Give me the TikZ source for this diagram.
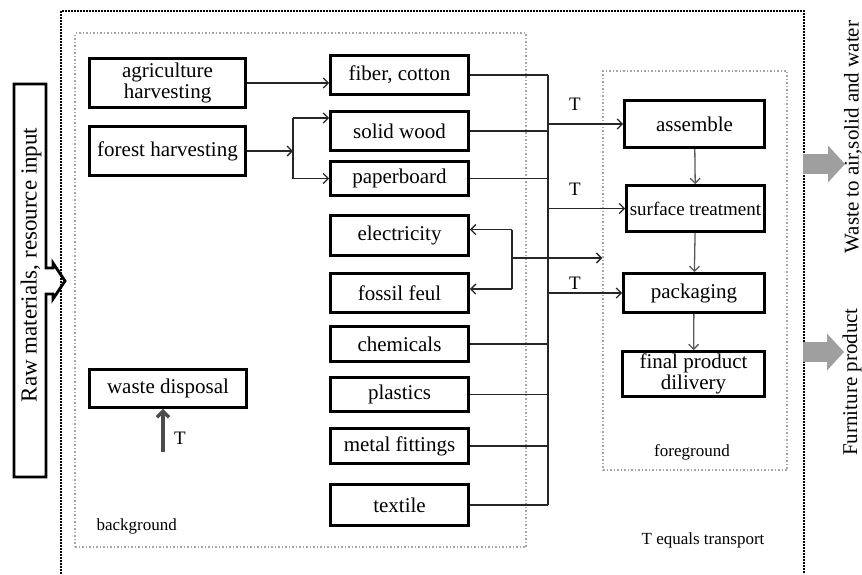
\documentclass[tikz,border=0pt]{standalone}
\usepackage{fontspec}
\setmainfont{Liberation Serif}
\usetikzlibrary{arrows.meta, positioning, calc}

\begin{document}
\begin{tikzpicture}[
  x=1pt, y=-1pt,
  box/.style    = {draw, line width=2.8pt, inner sep=1pt, align=center,
                   minimum width=138pt, minimum height=38pt,
                   font=\fontsize{21}{21}\selectfont},
  conn/.style   = {-{Straight Barb[length=5pt,width=10pt]}, line width=1.3pt,
                   black!85},
  bline/.style  = {line width=1.3pt, black!85},
  farr/.style   = {-{Straight Barb[length=5pt,width=10pt]}, line width=1.3pt,
                   black!65},
  zone/.style   = {draw=gray!70, line width=1.5pt,
                   dash pattern=on 1.5pt off 2pt, inner sep=0pt},
  tlab/.style   = {font=\fontsize{19}{19}\selectfont},
  lbl/.style    = {font=\fontsize{17}{17}\selectfont},
  side/.style   = {font=\fontsize{21}{21}\selectfont, rotate=90},
  bigarr/.style = {line width=20pt, gray!75,
                   -{Triangle[length=17pt,width=36pt]}},
]
\useasboundingbox (0,0) rectangle (862,574);

%% system boundary
\draw[line width=2.2pt, dash pattern=on 1.6pt off 1.4pt]
  (61,574) -- (61,11) -- (804,11) -- (804,574);

\node[zone, minimum width=451pt, minimum height=514pt] (bg) at (300.5,290) {};
\node[zone, minimum width=184pt, minimum height=399pt] (fg) at (695,270.5) {};

%% raw material input
\draw[line width=2.8pt, line join=miter]
  (14,84) -- (46,84) -- (46,268) -- (53,268) -- (53,263) -- (65,281)
  -- (53,299) -- (53,294) -- (46,294) -- (46,477) -- (14,477) -- cycle;
\node[font=\fontsize{23}{23}\selectfont, rotate=90] (rawin) at (31,265)
  {Raw materials, resource input};

%% background processes
\node[box, minimum width=156pt, minimum height=49pt] (agri)   at (167.5,83)  {agriculture\\harvesting};
\node[box, minimum width=156pt, minimum height=49pt] (forest) at (167.5,151) {forest harvesting};
\node[box, minimum width=157pt, minimum height=38pt] (waste)  at (168,388.5) {waste disposal};

\node[box, minimum height=39pt] (fiber)   at (399.5,75)    {fiber, cotton};
\node[box, minimum height=39pt] (solid)   at (399.5,131)   {solid wood};
\node[box, minimum height=34pt] (paper)   at (399.5,178.5) {paperboard};
\node[box, minimum height=40pt] (elec)    at (399.5,235.5) {electricity};
\node[box, minimum height=39pt] (fossil)  at (399.5,293)   {fossil feul};
\node[box, minimum height=35pt] (chem)    at (399.5,344)   {chemicals};
\node[box, minimum height=34pt] (plast)   at (399.5,394.5) {plastics};
\node[box, minimum height=35pt] (metal)   at (399.5,446)   {metal fittings};
\node[box, minimum height=41pt] (textile) at (399.5,505)   {textile};

%% foreground processes
\node[box, minimum width=140pt, minimum height=47pt] (assemble) at (694.5,124) {assemble};
\node[box, minimum width=138pt, minimum height=46pt,
      font=\fontsize{19}{19}\selectfont]             (surface)  at (695.5,208.5) {surface treatment};
\node[box, minimum width=141pt, minimum height=39pt] (pack)     at (694,293)   {packaging};
\node[box, minimum width=142pt, minimum height=45pt] (final)    at (693.5,374) {final product\\dilivery};

%% harvesting to materials
\coordinate (fsplit) at (293,151);
\coordinate (solidin) at ([yshift=13pt]solid.west);
\draw[conn] (agri.east) -- (agri.east -| fiber.west);
\draw[conn] (forest.east) -- (fsplit);
\draw[bline] (solidin -| fsplit) -- (paper.west -| fsplit);
\draw[conn] (solidin -| fsplit) -- (solidin);
\draw[conn] (paper.west -| fsplit) -- (paper.west);

%% transport bus
\coordinate (bus) at (548,0);
\foreach \n in {fiber, solid, paper, chem, plast, metal, textile}
  \draw[bline] (\n.east) -- (\n.east -| bus);
\draw[bline] (bus |- fiber.east) -- (bus |- textile.east);

\draw[conn] (bus |- assemble.west) -- (assemble.west);
\draw[conn] (bus |- surface.west)  -- (surface.west);
\draw[conn] (bus |- pack.west)     -- (pack.west);
\node[tlab] (tasm)  at (575,104) {T};
\node[tlab] (tsurf) at (575,189) {T};
\node[tlab] (tpack) at (575,283) {T};

%% energy
\coordinate (esplit) at (512,258);
\coordinate (elecin) at ([yshift=6pt]elec.east);
\coordinate (fossin) at ([yshift=4pt]fossil.east);
\draw[bline] (elecin -| esplit) -- (fossin -| esplit);
\draw[conn] (elecin -| esplit) -- (elecin);
\draw[conn] (fossin -| esplit) -- (fossin);
\draw[conn] (esplit) -- (esplit -| fg.west);

%% foreground chain
\draw[farr] (assemble) -- (surface);
\draw[farr] (surface) -- (pack);
\draw[farr] (pack) -- (final);

%% waste transport
\coordinate (wtail) at (163,452);
\draw[line width=3.4pt, black!70, -{Straight Barb[length=6pt,width=12pt]}]
  (wtail) -- (wtail |- waste.south);
\node[tlab] (twaste) at (180,438) {T};

%% labels
\node[lbl, anchor=west] (bglab) at (93,526)  {background};
\node[lbl]              (fglab) at (692,452) {foreground};
\node[lbl]              (tnote) at (703,540) {T equals transport};

%% outputs
\coordinate (wout)  at (803,164);
\coordinate (pout)  at (803,352);
\node[side] (wastetxt) at (853,137) {Waste to air,solid and water};
\node[side] (prodtxt)  at (852,382) {Furniture product};
\draw[bigarr] (wout) -- ++(42,0);
\draw[bigarr] (pout) -- ++(41,0);

\end{tikzpicture}
\end{document}
